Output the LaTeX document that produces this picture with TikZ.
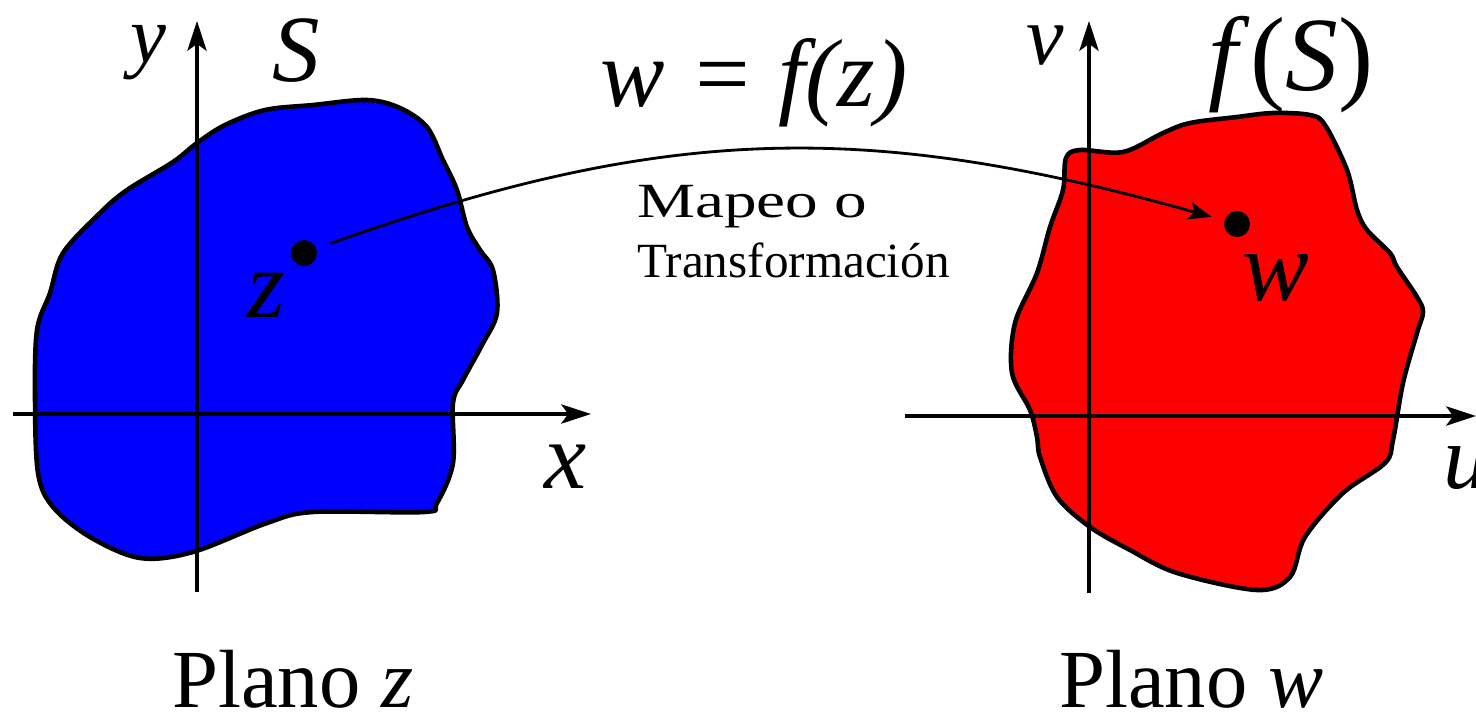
\documentclass[tikz,border=0pt]{standalone}
\usepackage{fontspec}
\setmainfont{Liberation Serif}
\usetikzlibrary{arrows.meta}
\begin{document}
\begin{tikzpicture}[x=0.02cm,y=-0.02cm,
  blob/.style={draw=black, line width=2.6pt, line join=round},
  axis/.style={draw=black, line width=1.8pt, -{Stealth[length=17pt,width=11pt,inset=4pt]}},
  dot/.style={circle, fill=black, inner sep=0pt, minimum size=0.52cm},
  maparrow/.style={draw=black, line width=1.6pt, -{Stealth[length=13pt,width=10pt,inset=3pt]}, shorten <=0.3cm, shorten >=0.26cm},
  txt/.style={inner sep=0pt, anchor=base west},
  ilab/.style={inner sep=0pt, anchor=base},
]
\useasboundingbox (0,0) rectangle (1476,713);
% blobs
\fill[blue] plot[smooth cycle, tension=0.55] coordinates {(197,143) (225,125) (265,110) (313,105) (367,100) (400,108) (427,127) (443,160) (457,190) (467,227) (480,250) (493,270) (497,313) (482,345) (463,380) (453,403) (453,463) (437,503) (424,512) (313,512) (267,523) (193,552) (140,558) (90,537) (53,507) (38,473) (35,397) (37,330) (50,293) (63,253) (100,213) (127,190) (173,162)};
\draw[blob] plot[smooth cycle, tension=0.55] coordinates {(197,143) (225,125) (265,110) (313,105) (367,100) (400,108) (427,127) (443,160) (457,190) (467,227) (480,250) (493,270) (497,313) (482,345) (463,380) (453,403) (453,463) (437,503) (424,512) (313,512) (267,523) (193,552) (140,558) (90,537) (53,507) (38,473) (35,397) (37,330) (50,293) (63,253) (100,213) (127,190) (173,162)};
\fill[red] plot[smooth cycle, tension=0.55] coordinates {(1080,150) (1123,152) (1163,133) (1190,123) (1237,117) (1273,113) (1310,115) (1325,125) (1347,170) (1357,210) (1367,230) (1390,253) (1397,267) (1417,297) (1423,312) (1417,333) (1403,383) (1393,440) (1385,463) (1343,493) (1305,537) (1290,577) (1257,590) (1177,573) (1130,550) (1090,527) (1057,497) (1040,457) (1037,437) (1030,410) (1012,373) (1015,323) (1037,273) (1050,227) (1063,190) (1066,158)};
\draw[blob] plot[smooth cycle, tension=0.55] coordinates {(1080,150) (1123,152) (1163,133) (1190,123) (1237,117) (1273,113) (1310,115) (1325,125) (1347,170) (1357,210) (1367,230) (1390,253) (1397,267) (1417,297) (1423,312) (1417,333) (1403,383) (1393,440) (1385,463) (1343,493) (1305,537) (1290,577) (1257,590) (1177,573) (1130,550) (1090,527) (1057,497) (1040,457) (1037,437) (1030,410) (1012,373) (1015,323) (1037,273) (1050,227) (1063,190) (1066,158)};
% axes
\coordinate (xa0) at (13,414);
\coordinate (xa1) at (591,414);
\coordinate (ya0) at (197,592);
\coordinate (ya1) at (197,21);
\coordinate (ua0) at (905,416);
\coordinate (ua1) at (1476,416);
\coordinate (va0) at (1089,593);
\coordinate (va1) at (1089,21);
\draw[axis] (xa0) -- (xa1);
\draw[axis] (ya0) -- (ya1);
\draw[axis] (ua0) -- (ua1);
\draw[axis] (va0) -- (va1);
% points
\node[dot] (zd) at (304,253) {};
\node[dot] (wd) at (1237,224) {};
\draw[maparrow] (zd) .. controls (670,122) and (873,122) .. (wd);
% labels
\node[ilab, font=\fontsize{46}{48}\selectfont] (ly) at (148,63) {\textit{y}};
\node[ilab, font=\fontsize{54}{56}\selectfont] (lS) at (296,82) {\textit{S}};
\node[ilab, font=\fontsize{48}{50}\selectfont] (lv) at (1045,65) {\textit{v}};
\node[ilab, font=\fontsize{60}{62}\selectfont] (lfS) at (1291,91) {\textit{f}(\textit{S})};
\node[ilab, font=\fontsize{55}{57}\selectfont] (lmap) at (754,107) {\textit{w = f(z)}};
\node[ilab, font=\fontsize{55}{57}\selectfont] (lz) at (266,317) {\textit{z}};
\node[ilab, font=\fontsize{57}{59}\selectfont] (lw) at (1276,300) {\textit{w}};
\node[ilab, font=\fontsize{54}{56}\selectfont] (lx) at (566,488) {\textit{x}};
\node[txt, font=\fontsize{52}{54}\selectfont] (lu) at (1443,488) {\textit{u}};
\node[txt, font=\fontsize{28}{30}\selectfont] (m1) at (637,217) {\resizebox{4.6cm}{\height}{Mapeo o}};
\node[txt, font=\fontsize{28}{30}\selectfont] (m2) at (637,277) {Transformación};
\node[txt, font=\fontsize{47}{50}\selectfont] (pz) at (172,707) {Plano \textit{z}};
\node[txt, font=\fontsize{47}{50}\selectfont] (pw) at (1059,707) {Plano \textit{w}};
\end{tikzpicture}
\end{document}
